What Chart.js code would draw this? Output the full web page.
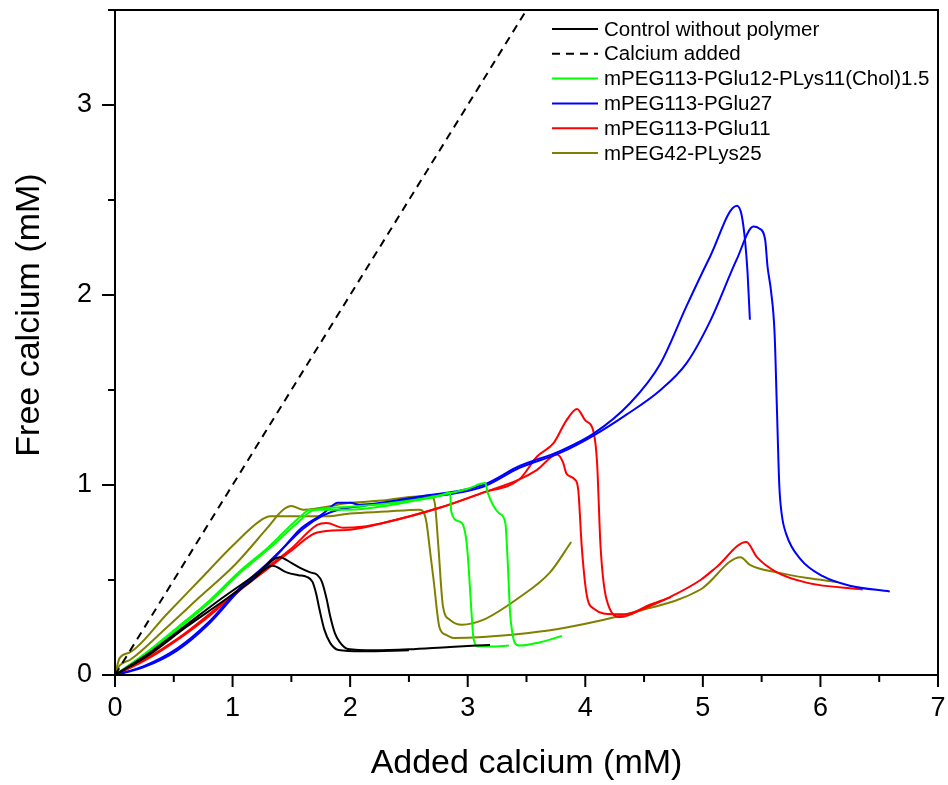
<!DOCTYPE html>
<html>
<head>
<meta charset="utf-8">
<script src="https://cdn.jsdelivr.net/npm/chart.js@4/dist/chart.umd.min.js"></script>
<style>
  html, body { margin: 0; padding: 0; background: #fff; }
  #wrap { width: 948px; height: 785px; }
</style>
</head>
<body>
<div id="wrap"><canvas id="chart"></canvas></div>
<script>
// tick labels
const xTicks = [0, 1, 2, 3, 4, 5, 6, 7];
const yTicks = [0, 1, 2, 3];

// legend names
const seriesNames = [
  'Control without polymer',
  'Calcium added',
  'mPEG113-PGlu12-PLys11(Chol)1.5',
  'mPEG113-PGlu27',
  'mPEG113-PGlu11',
  'mPEG42-PLys25'
];

// Control without polymer (two runs)
const ctrlX1 = [0, 0.3, 0.6, 0.9, 1.2, 1.40, 1.50, 1.57, 1.66, 1.72, 1.76, 1.80, 1.83, 1.87, 1.91, 1.98, 2.2, 2.5, 2.85, 3.19];
const ctrlY1 = [0, 0.12, 0.26, 0.40, 0.53, 0.62, 0.59, 0.565, 0.54, 0.527, 0.49, 0.40, 0.31, 0.22, 0.174, 0.137, 0.13, 0.135, 0.148, 0.158];
const ctrlX2 = [0, 0.3, 0.6, 0.9, 1.15, 1.34, 1.46, 1.56, 1.63, 1.68, 1.71, 1.74, 1.78, 1.83, 1.90, 2.1, 2.5];
const ctrlY2 = [0, 0.11, 0.25, 0.38, 0.49, 0.575, 0.54, 0.525, 0.517, 0.49, 0.43, 0.343, 0.24, 0.169, 0.132, 0.125, 0.13];

// Calcium added
const addX = [0, 3.5];
const addY = [0, 3.5];

// mPEG113-PGlu12-PLys11(Chol)1.5
const grnX1 = [0, 0.25, 0.53, 0.8, 1.05, 1.3, 1.57, 1.66, 2.0, 2.3, 2.57, 2.75, 2.85, 2.86, 2.92, 2.96, 2.99, 3.01, 3.03, 3.05, 3.09, 3.2, 3.35];
const grnY1 = [0, 0.11, 0.25, 0.39, 0.54, 0.67, 0.83, 0.87, 0.87, 0.89, 0.92, 0.94, 0.96, 0.86, 0.81, 0.79, 0.70, 0.55, 0.35, 0.19, 0.15, 0.15, 0.155];
const grnX2 = [0, 0.25, 0.53, 0.8, 1.05, 1.3, 1.55, 1.68, 2.0, 2.42, 2.8, 3.0, 3.15, 3.17, 3.22, 3.27, 3.32, 3.34, 3.36, 3.38, 3.40, 3.44, 3.6, 3.80];
const grnY2 = [0, 0.105, 0.24, 0.38, 0.53, 0.66, 0.80, 0.865, 0.885, 0.91, 0.95, 0.98, 1.01, 0.96, 0.89, 0.85, 0.80, 0.6, 0.33, 0.22, 0.17, 0.155, 0.17, 0.205];

// mPEG113-PGlu27
const bluX1 = [0, 0.24, 0.53, 0.8, 1.05, 1.3, 1.42, 1.57, 1.77, 1.84, 1.89, 2.0, 2.08, 2.59, 3.13, 3.44, 3.79, 4.07, 4.38, 4.64, 4.86, 5.06, 5.29, 5.33, 5.36, 5.38, 5.40];
const bluY1 = [0, 0.04, 0.13, 0.27, 0.44, 0.58, 0.66, 0.765, 0.85, 0.886, 0.906, 0.906, 0.896, 0.94, 1.0, 1.10, 1.18, 1.27, 1.43, 1.64, 1.94, 2.20, 2.47, 2.42, 2.28, 2.12, 1.87];
const bluX2 = [0, 0.24, 0.53, 0.8, 1.05, 1.3, 1.45, 1.6, 1.77, 1.9, 2.1, 2.59, 3.13, 3.44, 3.79, 4.07, 4.35, 4.64, 4.86, 5.06, 5.29, 5.43, 5.48, 5.53, 5.55, 5.58, 5.61, 5.63, 5.65, 5.67, 5.71, 5.83, 6.02, 6.25, 6.59];
const bluY2 = [0, 0.045, 0.14, 0.28, 0.45, 0.59, 0.68, 0.77, 0.84, 0.87, 0.89, 0.93, 0.99, 1.09, 1.17, 1.26, 1.37, 1.50, 1.64, 1.86, 2.19, 2.36, 2.35, 2.29, 2.15, 2.02, 1.80, 1.40, 1.00, 0.85, 0.74, 0.61, 0.52, 0.47, 0.44];

// mPEG113-PGlu11
const redX1 = [0, 0.25, 0.53, 0.8, 1.05, 1.3, 1.49, 1.72, 1.80, 1.94, 2.1, 2.28, 2.76, 3.13, 3.44, 3.59, 3.76, 3.81, 3.84, 3.91, 3.94, 3.97, 4.01, 4.07, 4.24, 4.35, 4.55, 4.73];
const redY1 = [0, 0.08, 0.19, 0.32, 0.45, 0.57, 0.66, 0.79, 0.80, 0.775, 0.78, 0.80, 0.88, 0.96, 1.03, 1.08, 1.16, 1.12, 1.06, 1.03, 0.975, 0.675, 0.43, 0.35, 0.32, 0.32, 0.37, 0.41];
const redX2 = [0, 0.25, 0.53, 0.8, 1.05, 1.3, 1.49, 1.72, 2.0, 2.28, 2.76, 3.13, 3.44, 3.59, 3.73, 3.84, 3.93, 4.0, 4.07, 4.10, 4.13, 4.18, 4.30, 4.5, 4.72, 4.98, 5.12, 5.37, 5.46, 5.63, 5.89, 6.36];
const redY2 = [0, 0.075, 0.185, 0.31, 0.44, 0.56, 0.65, 0.75, 0.765, 0.80, 0.88, 0.96, 1.03, 1.15, 1.22, 1.34, 1.40, 1.34, 1.28, 1.12, 0.675, 0.40, 0.305, 0.35, 0.41, 0.50, 0.57, 0.70, 0.62, 0.54, 0.485, 0.45];

// mPEG42-PLys25
const oliX1 = [0, 0.04, 0.13, 0.44, 0.72, 1.0, 1.23, 1.32, 1.6, 1.80, 2.0, 2.3, 2.59, 2.63, 2.65, 2.68, 2.71, 2.76, 2.82, 2.88, 3.13, 3.5, 3.84, 4.41, 4.98, 5.32, 5.40, 5.63, 5.89, 6.14];
const oliY1 = [0, 0.09, 0.12, 0.32, 0.50, 0.68, 0.81, 0.835, 0.835, 0.835, 0.85, 0.86, 0.87, 0.85, 0.80, 0.65, 0.50, 0.25, 0.21, 0.195, 0.20, 0.22, 0.25, 0.33, 0.45, 0.62, 0.58, 0.54, 0.51, 0.49];
const oliX2 = [0, 0.04, 0.13, 0.44, 0.72, 1.02, 1.29, 1.43, 1.5, 1.6, 2.0, 2.3, 2.57, 2.69, 2.72, 2.75, 2.79, 2.85, 2.95, 3.13, 3.42, 3.70, 3.88];
const oliY2 = [0, 0.05, 0.08, 0.25, 0.41, 0.58, 0.77, 0.87, 0.89, 0.87, 0.906, 0.92, 0.94, 0.94, 0.905, 0.68, 0.36, 0.29, 0.265, 0.29, 0.40, 0.54, 0.70];

const colors = ['#000000', '#000000', '#00ff00', '#0000ff', '#ff0000', '#808000'];
const FONT = '"Liberation Sans", Arial, sans-serif';

function pts(xs, ys) {
  return xs.map((x, i) => ({x: x, y: ys[i]}));
}

function trace(series, xs, ys, dash) {
  return {
    label: seriesNames[series],
    data: pts(xs, ys),
    showLine: true,
    borderColor: colors[series],
    borderWidth: 2,
    borderDash: dash || [],
    pointRadius: 0,
    fill: false,
    cubicInterpolationMode: 'monotone'
  };
}

const datasets = [
  trace(0, ctrlX1, ctrlY1),
  trace(0, ctrlX2, ctrlY2),
  trace(1, addX, addY, [8, 6]),
  trace(2, grnX1, grnY1),
  trace(2, grnX2, grnY2),
  trace(3, bluX1, bluY1),
  trace(3, bluX2, bluY2),
  trace(4, redX1, redY1),
  trace(4, redX2, redY2),
  trace(5, oliX1, oliY1),
  trace(5, oliX2, oliY2)
];

// box around plot + outward major/minor ticks
const frameTicks = {
  id: 'frameTicks',
  afterDatasetsDraw(chart) {
    const ctx = chart.ctx;
    const a = chart.chartArea;
    const xs = chart.scales.x, ys = chart.scales.y;
    ctx.save();
    ctx.strokeStyle = '#000';
    ctx.lineWidth = 2;
    ctx.strokeRect(a.left, a.top, a.right - a.left, a.bottom - a.top);
    ctx.beginPath();
    for (let v = 0; v <= 7.001; v += 0.5) {
      const px = xs.getPixelForValue(v);
      const len = Number.isInteger(v) ? 12 : 7;
      ctx.moveTo(px, a.bottom);
      ctx.lineTo(px, a.bottom + len);
    }
    for (let v = 0; v <= 3.501; v += 0.5) {
      const py = ys.getPixelForValue(v);
      const len = Number.isInteger(v) ? 13 : 7;
      ctx.moveTo(a.left, py);
      ctx.lineTo(a.left - len, py);
    }
    ctx.stroke();
    ctx.restore();
  }
};

// legend inside the plot (top right) and the y axis title
const innerLegend = {
  id: 'innerLegend',
  afterDraw(chart) {
    const ctx = chart.ctx;
    ctx.save();
    ctx.font = '20.5px ' + FONT;
    ctx.textBaseline = 'middle';
    ctx.fillStyle = '#000';
    seriesNames.forEach((name, i) => {
      const y = 29 + i * 24.8;
      ctx.beginPath();
      ctx.strokeStyle = colors[i];
      ctx.lineWidth = 2;
      ctx.setLineDash(i === 1 ? [8, 6] : []);
      ctx.moveTo(552, y);
      ctx.lineTo(598, y);
      ctx.stroke();
      ctx.setLineDash([]);
      ctx.fillText(name, 604, y + 1);
    });

    ctx.translate(30, 315);
    ctx.rotate(-Math.PI / 2);
    ctx.font = '34px ' + FONT;
    ctx.textAlign = 'center';
    ctx.fillText('Free calcium (mM)', 0, 0);
    ctx.restore();
  }
};

function fixSize(prop, size) {
  return s => {
    s[prop] = size;
    s.paddingTop = 0; s.paddingBottom = 0;
    s.paddingLeft = 0; s.paddingRight = 0;
  };
}

new Chart(document.getElementById('chart'), {
  type: 'scatter',
  data: {datasets: datasets},
  options: {
    responsive: true,
    maintainAspectRatio: false,
    animation: false,
    layout: {padding: {top: 10, right: 10, left: 0, bottom: 0}},
    plugins: {
      legend: {display: false},
      tooltip: {enabled: false}
    },
    scales: {
      x: {
        type: 'linear',
        min: 0,
        max: 7,
        grid: {display: false, drawTicks: false},
        border: {display: false},
        ticks: {
          stepSize: 1,
          padding: 17,
          color: '#000',
          font: {family: FONT, size: 27},
          callback: v => xTicks.includes(v) ? String(v) : ''
        },
        title: {
          display: true,
          text: 'Added calcium (mM)',
          color: '#000',
          font: {family: FONT, size: 34},
          padding: {top: 0, bottom: 1}
        },
        afterFit: fixSize('height', 110)
      },
      y: {
        type: 'linear',
        min: 0,
        max: 3.5,
        grid: {display: false, drawTicks: false},
        border: {display: false},
        ticks: {
          stepSize: 1,
          padding: 23,
          color: '#000',
          font: {family: FONT, size: 27},
          callback: v => yTicks.includes(v) ? String(v) : ''
        },
        title: {display: false},
        afterFit: fixSize('width', 115)
      }
    }
  },
  plugins: [frameTicks, innerLegend]
});
</script>
</body>
</html>
